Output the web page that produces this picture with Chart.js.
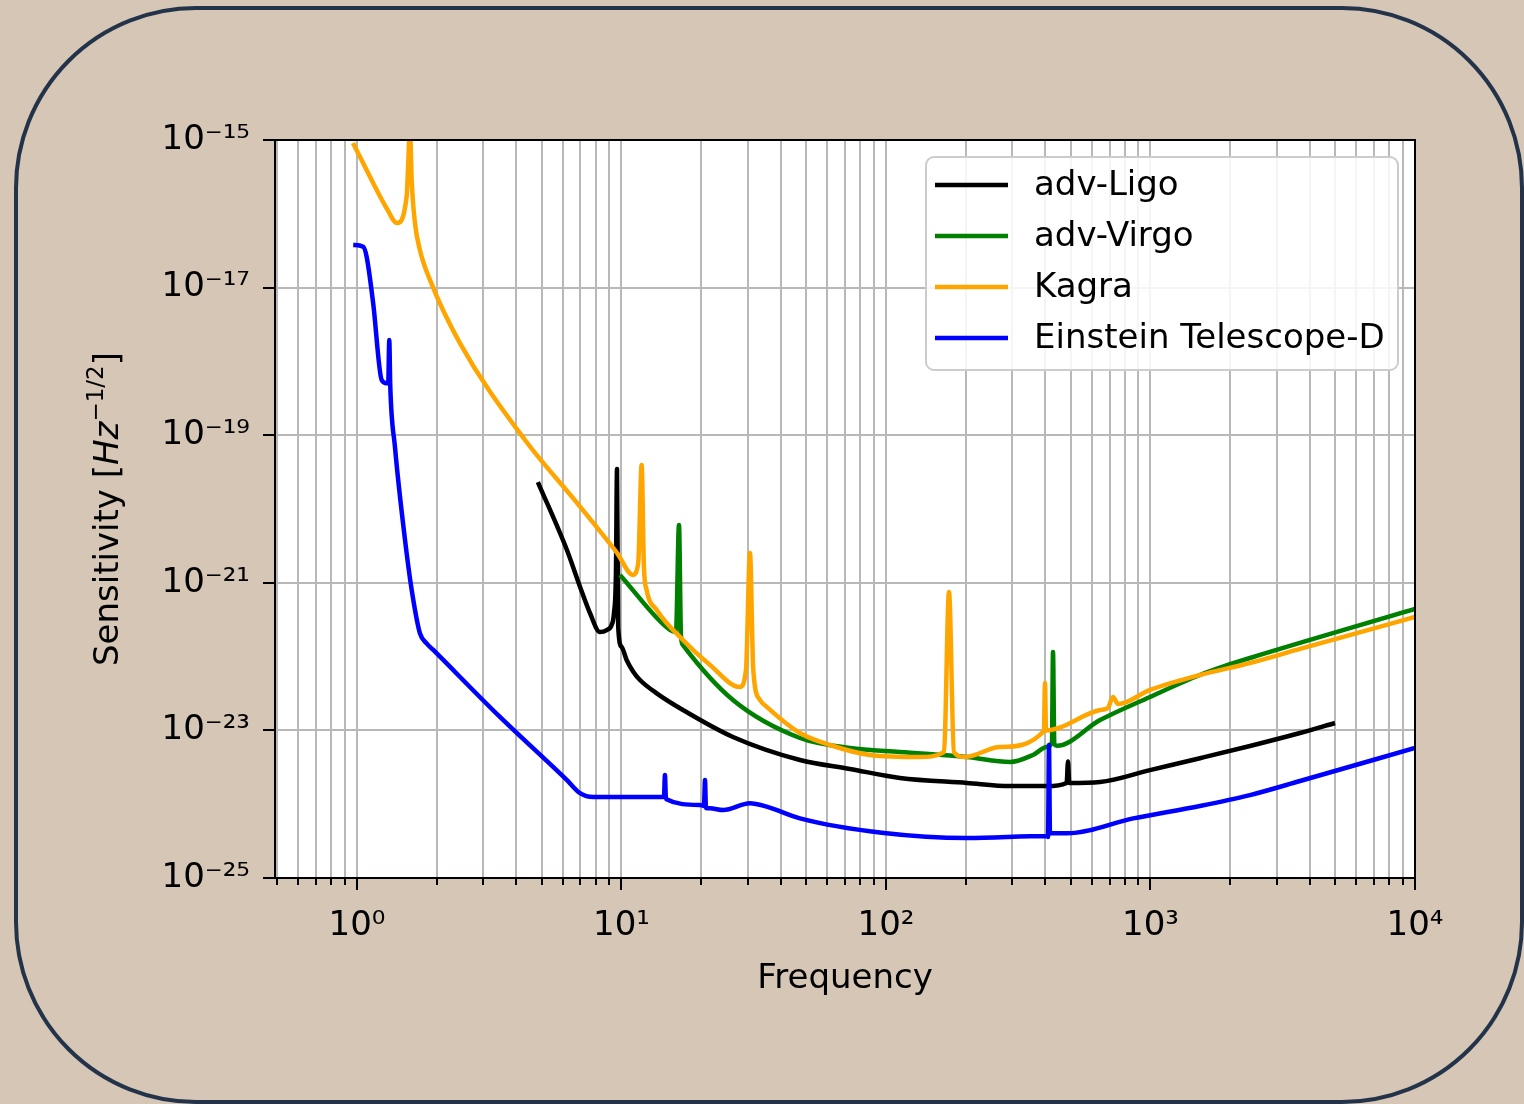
<!DOCTYPE html>
<html><head><meta charset="utf-8">
<script src="https://cdn.jsdelivr.net/npm/chart.js@4.4.1/dist/chart.umd.min.js"></script>
<style>
html,body{margin:0;padding:0;background:#d6c6b5;width:1524px;height:1104px;overflow:hidden}
#frame{position:absolute;left:14px;top:6px;width:1510px;height:1098px;box-sizing:border-box;border:4px solid #22334a;border-radius:182px}
#wrap{position:absolute;left:0;top:0;width:1524px;height:1104px}
</style></head><body>
<div id="frame"></div>
<div id="wrap"><canvas id="c" width="1524" height="1104"></canvas></div>
<script>
// ---- data ----
const ligoFreq = [4.83, 6.22, 6.97, 7.60, 8.29, 8.80, 9.18, 9.37, 9.53, 9.62, 9.72, 10.02, 10.46, 11.08, 11.75, 13.59, 17.08, 26.4, 47.3, 73.1, 112.9, 202.4, 294.3, 406, 482, 487.7, 493, 644.5, 995.6, 1538, 2378, 3675, 4983];
const ligoSens = [2.32e-20, 2.78e-21, 8.86e-22, 3.90e-22, 2.15e-22, 2.29e-22, 2.68e-22, 3.9e-22, 1.36e-21, 3.48e-20, 2.52e-22, 1.35e-22, 9.0e-23, 6.25e-23, 4.82e-23, 3.18e-23, 1.89e-23, 8.14e-24, 3.97e-24, 3.0e-24, 2.27e-24, 1.94e-24, 1.76e-24, 1.76e-24, 1.94e-24, 3.78e-24, 1.94e-24, 2.0e-24, 2.9e-24, 4.2e-24, 6.15e-24, 9.22e-24, 1.26e-23];

const virgoFreq = [9.87, 15.26, 16.07, 16.5, 16.79, 17.08, 26.4, 47.3, 73.1, 112.9, 202.4, 294.3, 359.6, 405, 424, 428, 433, 443, 644.5, 995.6, 1538, 1913, 2378, 10000];
const virgoSens = [1.28e-21, 2.29e-22, 2.15e-22, 6.07e-21, 1.9e-22, 1.43e-22, 2.58e-23, 7.89e-24, 5.78e-24, 5.09e-24, 4.36e-24, 3.73e-24, 4.65e-24, 5.95e-24, 6.97e-24, 1.15e-22, 6.5e-24, 6.2e-24, 1.38e-23, 2.84e-23, 5.63e-23, 7.46e-23, 9.57e-23, 4.42e-22];

const kagraFreq = [0.966, 1.056, 1.152, 1.295, 1.417, 1.541, 1.563, 1.586, 1.61, 1.657, 1.73, 1.888, 2.45, 4.32, 6.79, 9.62, 11.05, 11.57, 11.92, 12.16, 12.45, 13.59, 17.08, 21.61, 28.05, 29.56, 30.61, 31.5, 33.4, 35.49, 47.3, 61.4, 87.0, 134.4, 165.7, 173.1, 180.7, 198.9, 269.8, 395.5, 399.2, 402.7, 644.5, 690, 721.6, 754, 995.6, 1538, 2378, 3675, 10000];
const kagraSens = [9.1e-16, 4.83e-16, 2.6e-16, 1.19e-16, 7.5e-17, 1.71e-16, 4.88e-16, 1.5e-15, 2.87e-16, 7.5e-17, 3.24e-17, 1.27e-17, 1.77e-18, 8.6e-20, 1.21e-20, 2.54e-21, 1.28e-21, 1.84e-21, 3.94e-20, 1.65e-21, 7.98e-22, 4.28e-22, 1.68e-22, 7.69e-23, 3.87e-23, 6.58e-23, 2.54e-21, 6.58e-23, 2.58e-23, 2.07e-23, 9.22e-24, 6.34e-24, 4.65e-24, 4.36e-24, 5.09e-24, 7.5e-22, 5.09e-24, 4.36e-24, 5.96e-24, 9.8e-24, 4.39e-23, 1.0e-23, 1.89e-23, 2.01e-23, 2.84e-23, 2.28e-23, 3.53e-23, 5.63e-23, 8.19e-23, 1.27e-22, 3.44e-22];

const etFreq = [0.968, 1.056, 1.088, 1.152, 1.240, 1.295, 1.313, 1.325, 1.336, 1.392, 1.541, 1.633, 1.73, 1.834, 1.943, 3.472, 6.21, 6.97, 7.82, 14.35, 14.48, 14.60, 14.73, 19.81, 20.51, 20.69, 20.87, 21.61, 24.26, 30.61, 35.4, 47.3, 98.3, 202.4, 406, 409.8, 413.3, 416.9, 483, 861, 1538, 2378, 3675, 10000];
const etSens = [3.78e-17, 3.58e-17, 2.62e-17, 6.1e-18, 5.6e-19, 5.06e-19, 5.06e-19, 1.95e-18, 4.8e-19, 6.98e-20, 2.54e-21, 5.85e-22, 2.07e-22, 1.51e-22, 1.23e-22, 1.52e-23, 2.13e-24, 1.41e-24, 1.25e-24, 1.25e-24, 1.25e-24, 2.49e-24, 1.18e-24, 9.75e-25, 9.46e-25, 2.13e-24, 8.89e-25, 8.79e-25, 8.34e-25, 1.03e-24, 9.25e-25, 6.44e-25, 4.07e-25, 3.48e-25, 3.71e-25, 3.6e-25, 6.34e-24, 4.07e-25, 4.03e-25, 6.42e-25, 9.46e-25, 1.33e-24, 2.06e-24, 5.78e-24];

const seriesLabels = ['adv-Ligo', 'adv-Virgo', 'Kagra', 'Einstein Telescope-D'];
const seriesColors = ['#000000', '#008000', '#ffa500', '#0000ff'];

const xTickValues = [0.5,0.6,0.7,0.8,0.9,1,2,3,4,5,6,7,8,9,10,20,30,40,50,60,70,80,90,100,200,300,400,500,600,700,800,900,1000,2000,3000,4000,5000,6000,7000,8000,9000,10000];
const xMajorTicks = [1, 10, 100, 1000, 10000];
const xMajorLabels = ['10⁰', '10¹', '10²', '10³', '10⁴'];
const yTicks = [1e-25, 1e-23, 1e-21, 1e-19, 1e-17, 1e-15];
const yLabels = ['10⁻²⁵', '10⁻²³', '10⁻²¹', '10⁻¹⁹', '10⁻¹⁷', '10⁻¹⁵'];
const xMin = 0.49, xMax = 10000, yMin = 1e-25, yMax = 1e-15;

function pairs(xs, ys) { return xs.map((x, i) => ({x: x, y: ys[i]})); }

Chart.defaults.font.family = "'DejaVu Sans', sans-serif";
Chart.defaults.font.size = 34;
Chart.defaults.color = '#000';

const FS = 34;
const LW = 4.5;

const bgPlugin = {
  id: 'bg',
  beforeDraw(chart) {
    const a = chart.chartArea, ctx = chart.ctx;
    ctx.save(); ctx.fillStyle = '#ffffff';
    ctx.fillRect(a.left, a.top, a.right - a.left, a.bottom - a.top);
    ctx.restore();
  },
  afterDraw(chart) {
    const a = chart.chartArea, ctx = chart.ctx;
    const xs = chart.scales.x, ys = chart.scales.y;
    ctx.save();
    // spines
    ctx.strokeStyle = '#000'; ctx.lineWidth = 2;
    ctx.strokeRect(a.left, a.top, a.right - a.left, a.bottom - a.top);
    // tick marks
    ctx.lineWidth = 2;
    xs.ticks.forEach(t => {
      const px = Math.round(xs.getPixelForValue(t.value));
      const major = xMajorTicks.indexOf(t.value) >= 0;
      ctx.beginPath(); ctx.moveTo(px, a.bottom); ctx.lineTo(px, a.bottom + (major ? 12 : 7)); ctx.stroke();
    });
    ys.ticks.forEach(t => {
      const py = Math.round(ys.getPixelForValue(t.value));
      ctx.beginPath(); ctx.moveTo(a.left, py); ctx.lineTo(a.left - 12, py); ctx.stroke();
    });
    // legend
    const bx = a.right - 17 - 472, by = a.top + 17, bw = 472, bh = 213;
    ctx.beginPath(); ctx.roundRect(bx, by, bw, bh, 8);
    ctx.fillStyle = 'rgba(255,255,255,0.85)'; ctx.fill();
    ctx.strokeStyle = '#cccccc'; ctx.lineWidth = 2; ctx.stroke();
    chart.data.datasets.forEach((d, i) => {
      const ry = by + 28 + i * 51;
      ctx.strokeStyle = d.borderColor; ctx.lineWidth = LW;
      ctx.beginPath(); ctx.moveTo(bx + 9, ry); ctx.lineTo(bx + 82, ry); ctx.stroke();
      ctx.fillStyle = '#000'; ctx.font = FS + "px 'DejaVu Sans'";
      ctx.textBaseline = 'middle'; ctx.textAlign = 'left';
      ctx.fillText(d.label, bx + 108, ry + 1);
    });
    // y axis title
    const segs = [
      {t: 'Sensitivity [', f: FS + "px 'DejaVu Sans'", dy: 0},
      {t: 'Hz', f: 'italic ' + FS + "px 'DejaVu Sans'", dy: 0},
      {t: '−1/2', f: "23px 'DejaVu Sans'", dy: -15},
      {t: ']', f: FS + "px 'DejaVu Sans'", dy: 0}
    ];
    let W = 0;
    segs.forEach(s => { ctx.font = s.f; s.w = ctx.measureText(s.t).width; W += s.w; });
    ctx.translate(118, (a.top + a.bottom) / 2);
    ctx.rotate(-Math.PI / 2);
    ctx.fillStyle = '#000'; ctx.textBaseline = 'alphabetic'; ctx.textAlign = 'left';
    let cx = -W / 2;
    segs.forEach(s => { ctx.font = s.f; ctx.fillText(s.t, cx, s.dy); cx += s.w; });
    ctx.restore();
  }
};

const base = {borderWidth: LW, pointRadius: 0, pointHoverRadius: 0, cubicInterpolationMode: 'monotone', fill: false, clip: 0, borderJoinStyle: 'round'};
const datasets = [
  Object.assign({}, base, {label: seriesLabels[0], data: pairs(ligoFreq, ligoSens), borderColor: seriesColors[0], order: 3}),
  Object.assign({}, base, {label: seriesLabels[1], data: pairs(virgoFreq, virgoSens), borderColor: seriesColors[1], order: 2}),
  Object.assign({}, base, {label: seriesLabels[2], data: pairs(kagraFreq, kagraSens), borderColor: seriesColors[2], order: 1}),
  Object.assign({}, base, {label: seriesLabels[3], data: pairs(etFreq, etSens), borderColor: seriesColors[3], order: 0})
];

new Chart(document.getElementById('c'), {
  type: 'line',
  data: {datasets: datasets},
  plugins: [bgPlugin],
  options: {
    responsive: false,
    animation: false,
    devicePixelRatio: 1,
    layout: {padding: {left: 0, top: 140, right: 109, bottom: 100}},
    plugins: {legend: {display: false}, tooltip: {enabled: false}},
    scales: {
      x: {
        type: 'logarithmic', min: xMin, max: xMax,
        afterBuildTicks: s => { s.ticks = xTickValues.map(v => ({value: v})); },
        afterFit: s => { s.height = 126; },
        ticks: {
          autoSkip: false, maxRotation: 0, minRotation: 0, padding: 28, color: '#000', font: {size: FS},
          callback: v => { const i = xMajorTicks.indexOf(v); return i >= 0 ? xMajorLabels[i] : ''; }
        },
        grid: {color: '#b8b8b8', lineWidth: 2, drawTicks: false},
        border: {display: false},
        title: {display: true, text: 'Frequency', color: '#000', font: {size: FS}, padding: {top: 4, bottom: 4}}
      },
      y: {
        type: 'logarithmic', min: yMin, max: yMax,
        afterBuildTicks: s => { s.ticks = yTicks.map(v => ({value: v})); },
        afterFit: s => { s.width = 275; },
        ticks: {
          autoSkip: false, padding: 25, color: '#000', font: {size: FS},
          callback: v => { const i = yTicks.indexOf(v); return i >= 0 ? yLabels[i] : ''; }
        },
        grid: {color: '#b8b8b8', lineWidth: 2, drawTicks: false},
        border: {display: false}
      }
    }
  }
});
</script></body></html>
